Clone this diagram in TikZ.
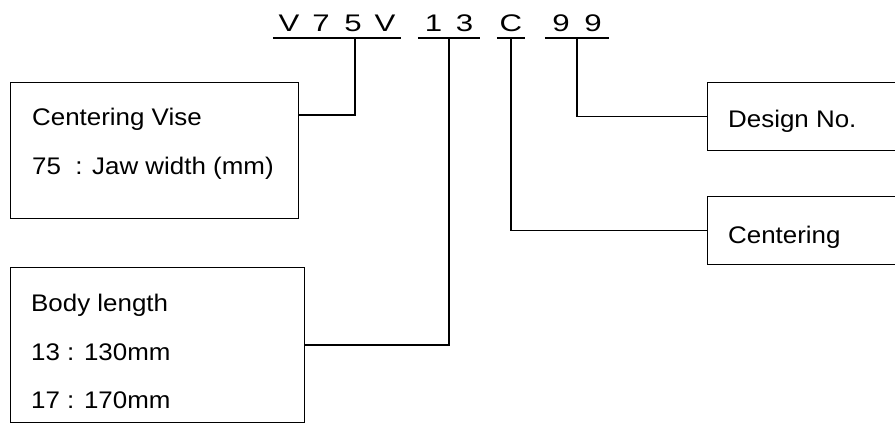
\documentclass[tikz,border=0pt]{standalone}
\usepackage{fontspec}
\setmainfont{Liberation Sans}
\newfontfamily\codefont[FakeStretch=1.3]{Liberation Sans}
\newfontfamily\labelfont[FakeStretch=1.08]{Liberation Sans}
\newcommand\codechar[2]{\makebox[#1pt]{#2}}
\begin{document}
\begin{tikzpicture}[x=1pt,y=-1pt,
  box/.style={draw,line width=1.2pt,rectangle,inner sep=0pt,anchor=north west},
  lbl/.style={anchor=base west,inner sep=0pt,font=\labelfont\fontsize{24}{30}\selectfont},
  code/.style={anchor=base,inner sep=0pt,font=\codefont\fontsize{24}{28}\selectfont},
  conn/.style={line width=1.5pt},
  uline/.style={line width=1.5pt}]
\useasboundingbox (0,0) rectangle (895,423);
\clip (0,0) rectangle (895,423);
% code groups
\node[code] (g1) at (337,31) {\codechar{32}{V}\codechar{32}{7}\codechar{32}{5}\codechar{32}{V}};
\node[code] (g2) at (449,31) {\codechar{31}{1}\codechar{31}{3}};
\node[code] (g3) at (511,31) {\codechar{28}{C}};
\node[code] (g4) at (577,31) {\codechar{32}{9}\codechar{32}{9}};
\foreach \g in {g1,g2,g3,g4}
  \draw[uline] ([yshift=-7pt]\g.base west) -- ([yshift=-7pt]\g.base east);
% boxes
\node[box,minimum width=288pt,minimum height=136pt] (vise) at (10,82) {};
\node[box,minimum width=294pt,minimum height=155pt] (body) at (10,267) {};
\node[box,minimum width=200pt,minimum height=68pt] (design) at (707,82) {};
\node[box,minimum width=200pt,minimum height=68pt] (cent) at (707,196) {};
% texts
\node[lbl] (t1) at (32,125) {Centering Vise};
\node[lbl] (t2) at (32,174) {75\ \ : Jaw width (mm)};
\node[lbl] (t3) at (31,311) {Body length};
\node[lbl] (t4) at (31,360) {13 : 130mm};
\node[lbl] (t5) at (31,408) {17 : 170mm};
\node[lbl] (t6) at (728,127) {Design No.};
\node[lbl] (t7) at (728,243) {Centering};
% connectors
\draw[conn] ([yshift=-33pt]vise.north east) -| ([xshift=18pt,yshift=-7pt]g1.base);
\draw[conn] (body.east) -| ([yshift=-7pt]g2.base);
\draw[conn] (cent.west) -| ([yshift=-7pt]g3.base);
\draw[conn] (design.west) -| ([yshift=-7pt]g4.base);
\end{tikzpicture}
\end{document}
